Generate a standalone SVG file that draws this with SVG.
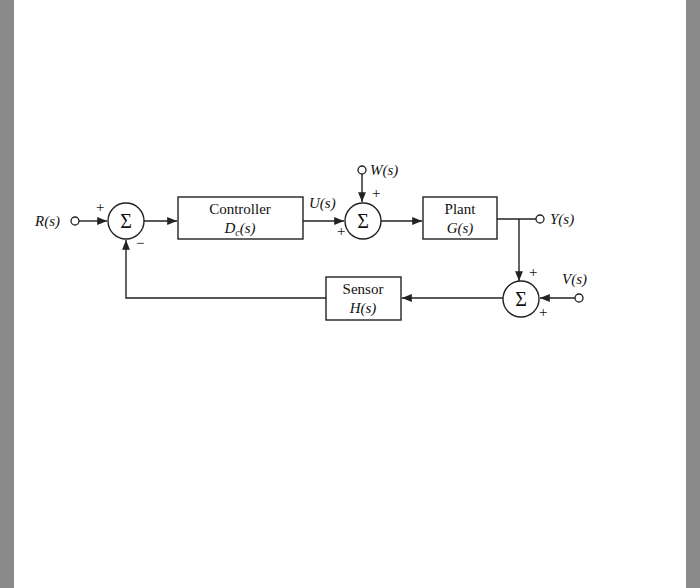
<svg xmlns="http://www.w3.org/2000/svg" width="700" height="588" viewBox="0 0 700 588">
<style>
.l{stroke:#222;stroke-width:1.4;fill:none}
.b{stroke:#222;stroke-width:1.4;fill:#fff}
.t{font-family:"Liberation Serif",serif;font-size:15px;fill:#111}
.i{font-style:italic}
.s{font-size:20px}
.o{stroke:#222;stroke-width:1.3;fill:#fff}
</style>
<defs><marker id="a" viewBox="0 0 10 10" refX="10" refY="5" markerWidth="7" markerHeight="7" orient="auto"><path d="M0,1L10,5L0,9z" fill="#222"/></marker></defs>
<rect x="0" y="0" width="14" height="588" fill="#8a8a8a"/>
<rect x="686" y="0" width="14" height="588" fill="#8a8a8a"/>
<rect x="14" y="0" width="672" height="588" fill="#fff"/>
<g id="connectors">
<path class="l" d="M79,221H107" marker-end="url(#a)"/>
<path class="l" d="M144,221H177" marker-end="url(#a)"/>
<path class="l" d="M303,221H344" marker-end="url(#a)"/>
<path class="l" d="M362,174V202" marker-end="url(#a)"/>
<path class="l" d="M381,221H422" marker-end="url(#a)"/>
<path class="l" d="M497,219H536"/>
<path class="l" d="M519,219V281" marker-end="url(#a)"/>
<path class="l" d="M575,298H540" marker-end="url(#a)"/>
<path class="l" d="M503,298H402" marker-end="url(#a)"/>
<path class="l" d="M326,298H126V240" marker-end="url(#a)"/>
</g>
<g id="R"><circle class="o" cx="75" cy="221" r="4"/><text class="t i" x="35" y="226">R(s)</text></g>
<g id="sum1"><circle class="b" cx="126" cy="221" r="18"/><text class="t s" x="126" y="228" text-anchor="middle">Σ</text><text class="t" x="96" y="212">+</text><text class="t" x="136" y="248">−</text></g>
<g id="controller"><rect class="b" x="178" y="197" width="125" height="42"/><text class="t" x="240" y="214" text-anchor="middle">Controller</text><text class="t i" x="240" y="233" text-anchor="middle">D<tspan font-size="10" dy="3">c</tspan><tspan dy="-3">(s)</tspan></text></g>
<text class="t i" x="309" y="208">U(s)</text>
<g id="W"><circle class="o" cx="362" cy="170" r="4"/><text class="t i" x="370" y="175">W(s)</text></g>
<g id="sum2"><circle class="b" cx="363" cy="221" r="18"/><text class="t s" x="363" y="228" text-anchor="middle">Σ</text><text class="t" x="372" y="198">+</text><text class="t" x="337" y="236">+</text></g>
<g id="plant"><rect class="b" x="423" y="197" width="74" height="42"/><text class="t" x="460" y="214" text-anchor="middle">Plant</text><text class="t i" x="460" y="233" text-anchor="middle">G(s)</text></g>
<g id="Y"><circle class="o" cx="540" cy="219" r="4"/><text class="t i" x="550" y="224">Y(s)</text></g>
<g id="sum3"><circle class="b" cx="521" cy="299" r="18"/><text class="t s" x="521" y="306" text-anchor="middle">Σ</text><text class="t" x="529" y="277">+</text><text class="t" x="539" y="317">+</text></g>
<g id="V"><circle class="o" cx="579" cy="298" r="4"/><text class="t i" x="562" y="284">V(s)</text></g>
<g id="sensor"><rect class="b" x="326" y="277" width="75" height="43"/><text class="t" x="363" y="294" text-anchor="middle">Sensor</text><text class="t i" x="363" y="313" text-anchor="middle">H(s)</text></g>
</svg>
